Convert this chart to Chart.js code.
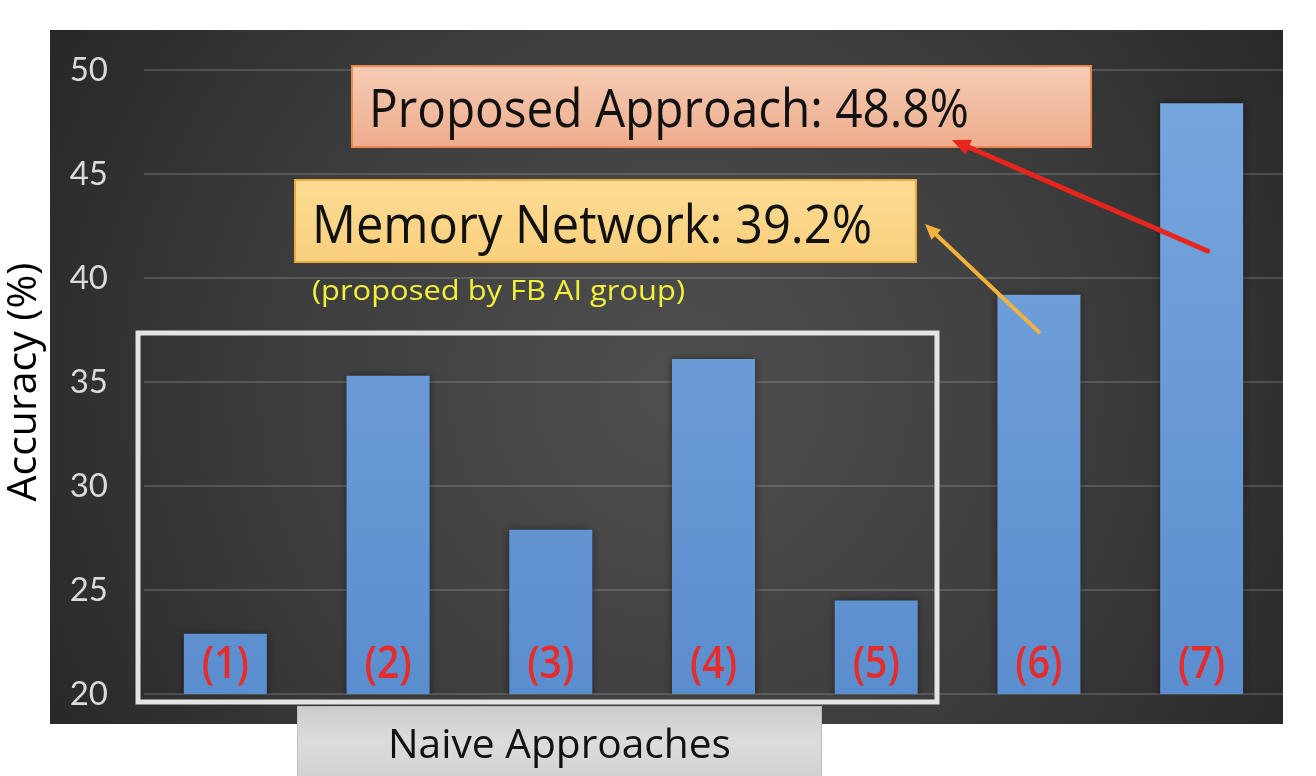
<!DOCTYPE html>
<html><head><meta charset="utf-8">
<script src="https://cdn.jsdelivr.net/npm/chart.js@4/dist/chart.umd.min.js"></script>
<style>html,body{margin:0;padding:0;background:#fff;overflow:hidden}#wrap{width:1316px;height:776px}</style>
</head><body><div id="wrap"><canvas id="c" width="1316" height="776"></canvas></div>
<script>
const categories = ['(1)','(2)','(3)','(4)','(5)','(6)','(7)'];
const accuracy = [22.9, 35.3, 27.9, 36.1, 24.5, 39.2, 48.4];
const yTicks = [20, 25, 30, 35, 40, 45, 50];
const yTitle = 'Accuracy (%)';
const calloutProposed = 'Proposed Approach: 48.8%';
const calloutMemory = 'Memory Network: 39.2%';
const calloutMemoryNote = '(proposed by FB AI group)';
const groupLabel = 'Naive Approaches';

function fitText(ctx, text, x, baseline, width, size, family, color) {
  ctx.save();
  ctx.font = size + 'px ' + family;
  const w = ctx.measureText(text).width;
  ctx.translate(x, baseline);
  ctx.scale(width / w, 1);
  ctx.fillStyle = color;
  ctx.textBaseline = 'alphabetic';
  ctx.textAlign = 'left';
  ctx.fillText(text, 0, 0);
  ctx.restore();
}
function arrow(ctx, x1, y1, x2, y2, color, w, head) {
  const a = Math.atan2(y2 - y1, x2 - x1);
  ctx.save();
  ctx.strokeStyle = color; ctx.fillStyle = color; ctx.lineWidth = w; ctx.lineCap = 'round';
  ctx.beginPath(); ctx.moveTo(x1, y1);
  ctx.lineTo(x2 - Math.cos(a) * head * 0.7, y2 - Math.sin(a) * head * 0.7); ctx.stroke();
  ctx.beginPath(); ctx.moveTo(x2, y2);
  ctx.lineTo(x2 - head * Math.cos(a - 0.42), y2 - head * Math.sin(a - 0.42));
  ctx.lineTo(x2 - head * Math.cos(a + 0.42), y2 - head * Math.sin(a + 0.42));
  ctx.closePath(); ctx.fill();
  ctx.restore();
}

const decor = {
  id: 'decor',
  beforeDraw(chart) {
    const ctx = chart.ctx;
    ctx.save();
    ctx.fillStyle = '#ffffff';
    ctx.fillRect(0, 0, chart.width, chart.height);
    const g = ctx.createRadialGradient(680, 390, 30, 680, 390, 760);
    g.addColorStop(0, '#4e4e4e');
    g.addColorStop(0.55, '#3b3b3b');
    g.addColorStop(1, '#252525');
    ctx.fillStyle = g;
    ctx.fillRect(50, 30, 1233, 694);
    ctx.restore();
  },
  beforeDatasetsDraw(chart) {
    const ctx = chart.ctx;
    ctx.save();
    ctx.shadowColor = 'rgba(0,0,0,0.45)';
    ctx.shadowBlur = 8;
  },
  afterDatasetsDraw(chart) {
    const ctx = chart.ctx;
    ctx.restore();
    const xs = chart.scales.x;
    ctx.save();
    ctx.fillStyle = '#e62c2b';
    ctx.font = '600 46px "Open Sans"';
    ctx.textAlign = 'center';
    ctx.textBaseline = 'middle';
    categories.forEach((c, i) => {
      ctx.save();
      const x = xs.getPixelForValue(i);
      ctx.translate(x, 665);
      ctx.scale(0.85, 1);
      ctx.fillText(c, 0, 0);
      ctx.restore();
    });
    ctx.restore();
  },
  afterDraw(chart) {
    const ctx = chart.ctx;
    const xs = chart.scales.x, ys = chart.scales.y;
    ctx.save();
    ctx.strokeStyle = '#e4e4e4';
    ctx.lineWidth = 5;
    ctx.strokeRect(138, 333, 799, 369);
    const gg = ctx.createLinearGradient(0, 706, 0, 776);
    gg.addColorStop(0, '#cbcbcb');
    gg.addColorStop(0.5, '#dcdcdc');
    gg.addColorStop(1, '#d2d2d2');
    ctx.fillStyle = gg;
    ctx.fillRect(297, 706, 525, 70);
    ctx.strokeStyle = '#bdbdbd'; ctx.lineWidth = 1;
    ctx.strokeRect(297.5, 706.5, 524, 70);
    fitText(ctx, groupLabel, 388, 758, 343, 40, '"Open Sans"', '#111');
    const go = ctx.createLinearGradient(0, 66, 0, 147);
    go.addColorStop(0, '#f6cbb3'); go.addColorStop(1, '#eeac8d');
    ctx.fillStyle = go;
    ctx.fillRect(352, 66, 739, 81);
    ctx.strokeStyle = '#e9874c'; ctx.lineWidth = 2;
    ctx.strokeRect(352, 66, 739, 81);
    fitText(ctx, calloutProposed, 369, 127, 600, 53, '"Open Sans"', '#111');
    const gy = ctx.createLinearGradient(0, 180, 0, 262);
    gy.addColorStop(0, '#fcdc95'); gy.addColorStop(1, '#f9cf7c');
    ctx.fillStyle = gy;
    ctx.fillRect(295, 180, 621, 82);
    ctx.strokeStyle = '#e9ad3e'; ctx.lineWidth = 2;
    ctx.strokeRect(295, 180, 621, 82);
    fitText(ctx, calloutMemory, 312, 243, 560, 53, '"Open Sans"', '#111');
    fitText(ctx, calloutMemoryNote, 312, 300, 373, 28, '"Open Sans"', '#f3f03a');
    arrow(ctx, xs.getPixelForValue(6) + 6, ys.getPixelForValue(41.3), 952, 140, '#e8251c', 5, 20);
    arrow(ctx, xs.getPixelForValue(5), ys.getPixelForValue(37.4), 925, 224, '#f3b23c', 4, 17);
    ctx.restore();
  }
};

new Chart(document.getElementById('c'), {
  type: 'bar',
  data: {
    labels: categories,
    datasets: [{
      data: accuracy,
      backgroundColor: (c) => {
        const ca = c.chart.chartArea;
        if (!ca) return '#6699d6';
        const g = c.chart.ctx.createLinearGradient(0, ca.top, 0, ca.bottom);
        g.addColorStop(0, '#77a7de');
        g.addColorStop(1, '#5b8ecf');
        return g;
      },
      borderWidth: 0,
      categoryPercentage: 1,
      barPercentage: 0.51
    }]
  },
  options: {
    responsive: false,
    animation: false,
    devicePixelRatio: 1,
    layout: { padding: { left: 0, top: 70, right: 33, bottom: 82 } },
    plugins: { legend: { display: false }, tooltip: { enabled: false } },
    scales: {
      x: { display: false },
      y: {
        min: 20, max: 50,
        afterBuildTicks: (s) => { s.ticks = yTicks.map(v => ({ value: v })); },
        afterFit: (s) => { s.width = 144; },
        ticks: { color: '#dadada', font: { family: 'Lato', size: 33 }, padding: 36 },
        grid: { color: 'rgba(255,255,255,0.15)', lineWidth: 2, drawTicks: false },
        border: { display: false },
        title: { display: true, text: yTitle, color: '#000', font: { family: '"Open Sans"', size: 41 }, padding: 0 }
      }
    }
  },
  plugins: [decor]
});
</script>
</body></html>
